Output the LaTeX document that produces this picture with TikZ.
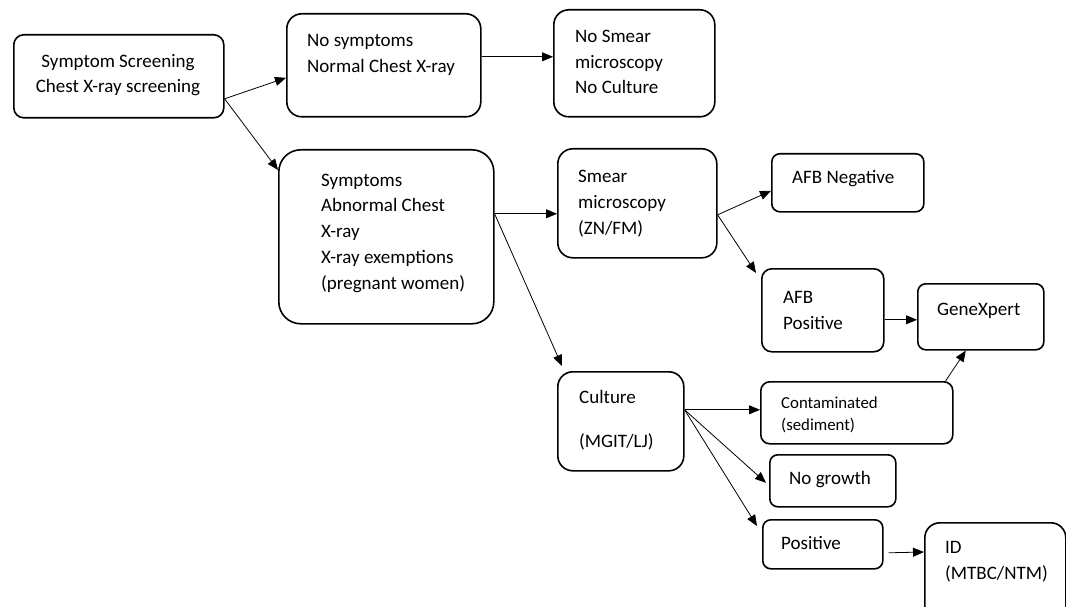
\documentclass[tikz,border=0pt]{standalone}
\usepackage{fontspec}
\setmainfont{Carlito}
\usetikzlibrary{arrows.meta}
\tikzset{
  box/.style={draw, line width=1.6pt, inner sep=0pt, anchor=north west},
  arr/.style={-{Triangle[length=11pt,width=9pt]}, line width=0.8pt},
  txt/.style={font=\fontsize{19}{25.7}\selectfont, align=left, inner sep=0pt, anchor=base west},
  smalltxt/.style={font=\fontsize{16.8}{22}\selectfont, align=left, inner sep=0pt, anchor=base west}
}
\begin{document}
\begin{tikzpicture}[x=1pt,y=-1pt]
\clip (0,0) rectangle (1066,607);
\fill[white] (0,0) rectangle (1066,607);
% boxes
\node[box, rounded corners=10pt, minimum width=210pt, minimum height=83pt] (S0) at (13,34) {};
\node[box, rounded corners=15pt, minimum width=194pt, minimum height=103pt] (NS) at (286,13) {};
\node[box, rounded corners=15pt, minimum width=161pt, minimum height=107pt] (NSm) at (553,9) {};
\node[box, rounded corners=22pt, minimum width=215pt, minimum height=174pt] (SY) at (278,149) {};
\node[box, rounded corners=15pt, minimum width=159pt, minimum height=109pt] (SM) at (557,148) {};
\node[box, rounded corners=8pt, minimum width=152pt, minimum height=58pt] (AN) at (771,153) {};
\node[box, rounded corners=10pt, minimum width=122pt, minimum height=83pt] (AP) at (761,268) {};
\node[box, rounded corners=8pt, minimum width=126pt, minimum height=66pt] (GX) at (917,283) {};
\node[box, rounded corners=15pt, minimum width=126pt, minimum height=99pt] (CU) at (557,371) {};
\node[box, rounded corners=9pt, minimum width=192pt, minimum height=62pt] (CO) at (760,381) {};
\node[box, rounded corners=8pt, minimum width=126pt, minimum height=52pt] (NG) at (769,454) {};
\node[box, rounded corners=8pt, minimum width=120pt, minimum height=49pt] (PO) at (762,519) {};
\node[box, rounded corners=15pt, minimum width=141pt, minimum height=110pt] (ID) at (924,522) {};
% texts (anchor = baseline of last line)
\node[txt, align=center, anchor=base, font=\fontsize{19}{25}\selectfont] (tS0) at (118,93) {Symptom Screening\\Chest X-ray screening};
\node[txt, font=\fontsize{19}{26.5}\selectfont] (tNS) at (307,73) {No symptoms\\Normal Chest X-ray};
\node[txt] (tNSm) at (575,94) {No Smear\\microscopy\\No Culture};
\node[txt] (tSY) at (321,289) {Symptoms\\Abnormal Chest\\X-ray\\X-ray exemptions\\(pregnant women)};
\node[txt] (tSM) at (578,234) {Smear\\microscopy\\(ZN/FM)};
\node[txt] (tAN) at (792,183) {AFB Negative};
\node[txt] (tAP) at (783,329) {AFB\\Positive};
\node[txt] (tGX) at (937,315) {GeneXpert};
\node[txt] (tCU) at (579,447) {Culture\\[18.3pt](MGIT/LJ)};
\node[smalltxt] (tCO) at (781,430) {Contaminated\\(sediment)};
\node[txt] (tNG) at (789,484) {No growth};
\node[txt] (tPO) at (781,549) {Positive};
\node[txt] (tID) at (945,579) {ID\\(MTBC/NTM)};
% connectors
\draw[arr] ([yshift=-22.5pt]S0.east) -- ([yshift=-12.5pt]NS.west);
\draw[arr] ([yshift=-22.5pt]S0.east) -- ([yshift=-21pt]SY.north west);
\draw[arr] ([yshift=8.5pt]NS.east) -- ([yshift=6.5pt]NSm.west);
\draw[arr] ([yshift=23pt]SY.east) -- ([yshift=-10.5pt]SM.west);
\draw[arr] ([yshift=23pt]SY.east) -- ([xshift=5pt,yshift=5pt]CU.north west);
\draw[arr] ([yshift=-11.5pt]SM.east) -- ([yshift=-8pt]AN.west);
\draw[arr] ([yshift=-11.5pt]SM.east) -- ([xshift=-5pt,yshift=-5pt]AP.north west);
\draw[arr] ([yshift=-9.5pt]AP.east) -- ([yshift=-3pt]GX.west);
\draw[arr] ([xshift=-8pt]CO.north east) -- ([xshift=-15pt]GX.south);
\draw[arr] ([yshift=11.5pt]CU.east) -- ([yshift=3pt]CO.west);
\draw[arr] ([yshift=11.5pt]CU.east) -- ([xshift=-3pt,yshift=-2pt]NG.west);
\draw[arr] ([yshift=11.5pt]CU.east) -- ([xshift=-5pt,yshift=-7pt]PO.north west);
\draw[arr] ([xshift=5pt,yshift=-8.5pt]PO.east) -- ([yshift=-30pt]ID.north west);
\end{tikzpicture}
\end{document}
